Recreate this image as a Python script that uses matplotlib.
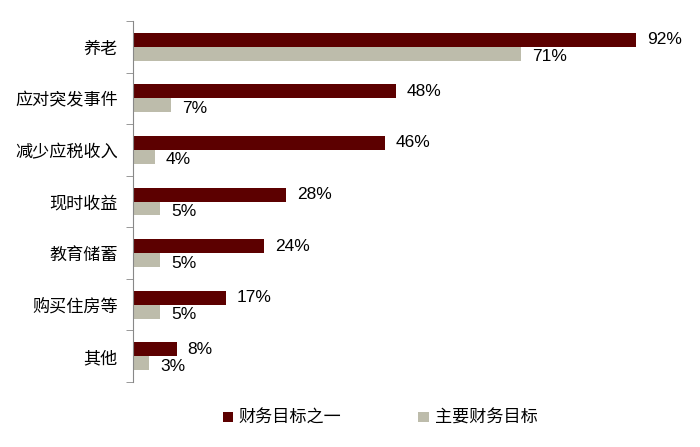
import matplotlib
matplotlib.use("Agg")
import matplotlib.pyplot as plt
import numpy as np

plt.rcParams['font.family'] = ['Noto Sans CJK SC', 'DejaVu Sans']

categories = ['养老', '应对突发事件', '减少应税收入', '现时收益', '教育储蓄', '购买住房等', '其他']
series1 = [92, 48, 46, 28, 24, 17, 8]
series2 = [71, 7, 4, 5, 5, 5, 3]
names = ['财务目标之一', '主要财务目标']
c1 = '#5C0000'
c2 = '#BDBCAB'

fig = plt.figure(figsize=(7, 4.47), dpi=100)
ax = fig.add_axes([133/700, 1-382/447, (690-133)/700, (382-21)/447])

y = np.arange(len(categories))
h = 0.27
ax.barh(y - h/2, series1, height=h, color=c1, label=names[0])
ax.barh(y + h/2, series2, height=h, color=c2, label=names[1])

for yi, v in zip(y, series1):
    ax.text(v + 2.0, yi - h/2, f'{v}%', va='center', ha='left', fontsize=12.5, family=['Liberation Sans', 'DejaVu Sans'])
for yi, v in zip(y, series2):
    ax.text(v + 2.0, yi + h/2 + 0.06, f'{v}%', va='center', ha='left', fontsize=12.5, family=['Liberation Sans', 'DejaVu Sans'])

ax.set_ylim(len(categories) - 0.5, -0.5)
ax.set_xlim(0, (690-133)/5.47)
ax.set_yticks(y)
ax.set_yticklabels(categories, fontsize=12.3)
ax.set_yticks(np.arange(-0.5, len(categories), 1), minor=True)
ax.tick_params(axis='y', which='major', length=0, pad=11)
ax.tick_params(axis='y', which='minor', length=5, color='#888888', direction='out')
ax.set_xticks([])
for s in ['top', 'right', 'bottom']:
    ax.spines[s].set_visible(False)
ax.spines['left'].set_color('#888888')

leg = fig.legend(loc='center', bbox_to_anchor=(380/700, 1-418/447), ncol=2, frameon=False,
                 fontsize=12.3, handlelength=0.6, handleheight=0.6, columnspacing=4.5, handletextpad=0.35)
fig.savefig('out.png', dpi=100)
